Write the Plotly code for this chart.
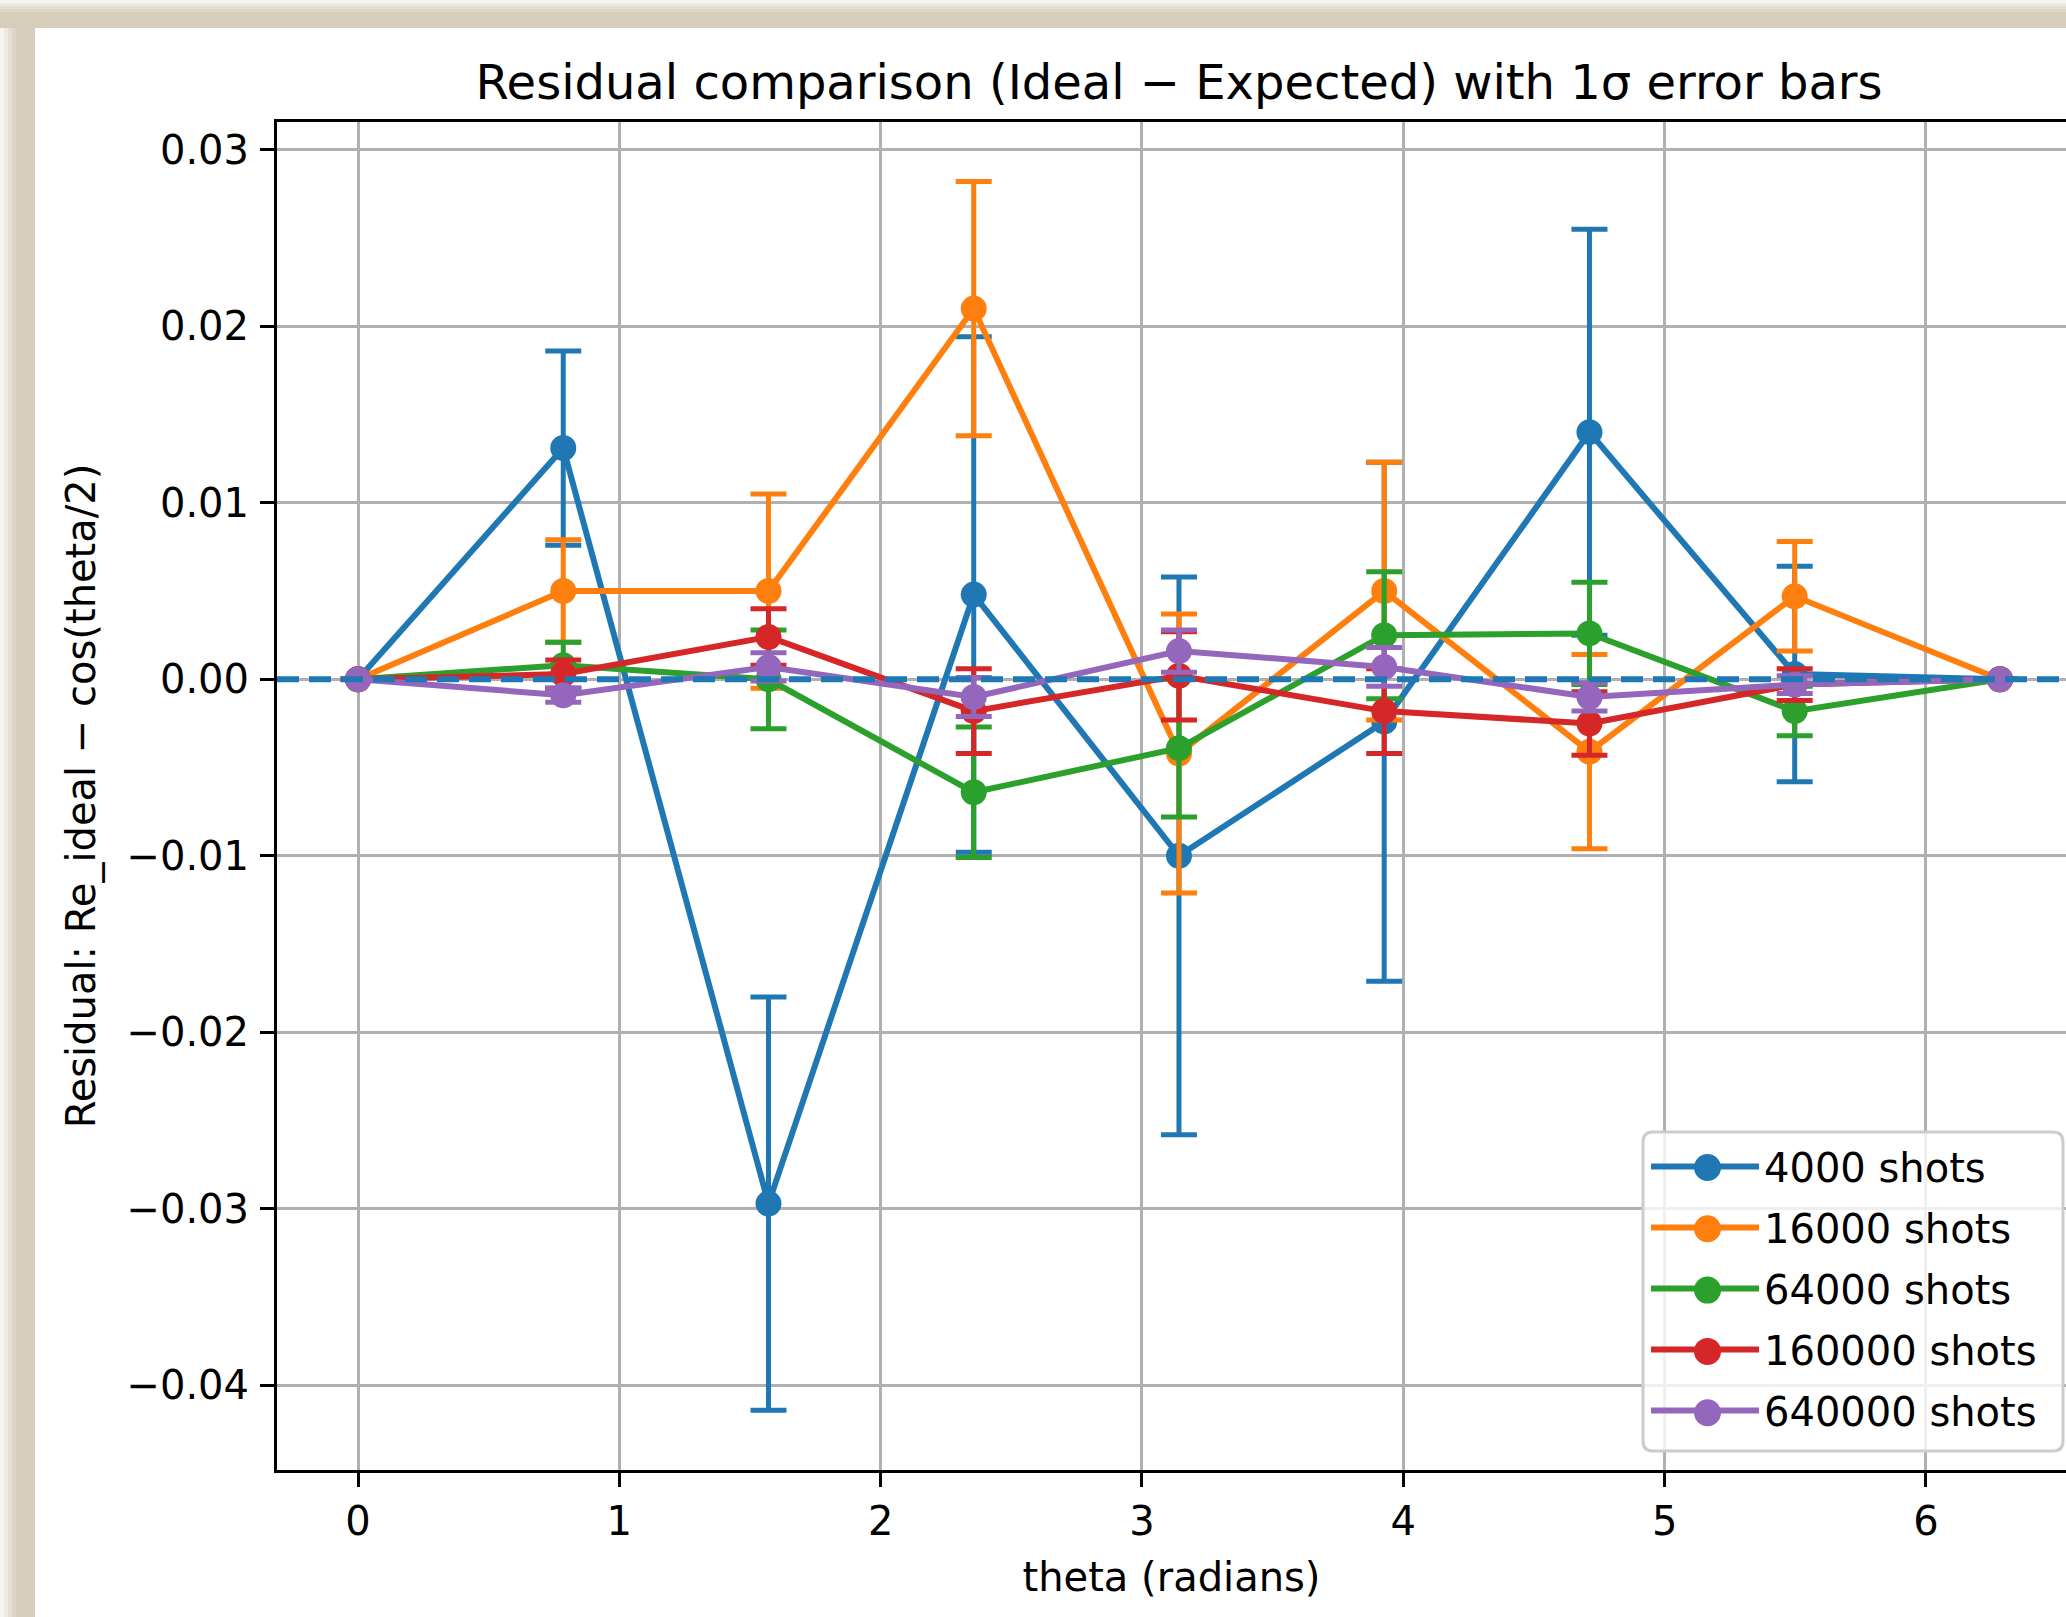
import plotly.graph_objects as go

# ---------------- data ----------------
theta = [0.0, 0.7854, 1.5708, 2.3562, 3.1416, 3.9270, 4.7124, 5.4978, 6.2832]

series_names = ["4000 shots", "16000 shots", "64000 shots", "160000 shots", "640000 shots"]

res_4000 = [0, 0.0131, -0.0297, 0.0048, -0.0100, -0.0024, 0.0140, 0.0003, 0]
err_4000 = [0, 0.0055, 0.0117, 0.0146, 0.0158, 0.0147, 0.0115, 0.0061, 0]

res_16000 = [0, 0.0050, 0.0050, 0.0210, -0.0042, 0.0050, -0.0041, 0.0047, 0]
err_16000 = [0, 0.0029, 0.0055, 0.0072, 0.0079, 0.0073, 0.0055, 0.0031, 0]

res_64000 = [0, 0.0008, 0.0000, -0.0064, -0.0039, 0.0025, 0.0026, -0.0018, 0]
err_64000 = [0, 0.0013, 0.0028, 0.0037, 0.0039, 0.0036, 0.0029, 0.0014, 0]

res_160000 = [0, 0.0003, 0.0024, -0.0018, 0.0002, -0.0018, -0.0025, -0.0003, 0]
err_160000 = [0, 0.0008, 0.0016, 0.0024, 0.0025, 0.0024, 0.0018, 0.0009, 0]

res_640000 = [0, -0.0009, 0.0007, -0.0010, 0.0016, 0.0007, -0.0010, -0.0003, 0]
err_640000 = [0, 0.0004, 0.0008, 0.0011, 0.0012, 0.0011, 0.0008, 0.0005, 0]

x_tickvals = [0, 1, 2, 3, 4, 5, 6]
x_ticktext = ["0", "1", "2", "3", "4", "5", "6"]
y_tickvals = [-0.04, -0.03, -0.02, -0.01, 0.0, 0.01, 0.02, 0.03]
y_ticktext = ["\u22120.04", "\u22120.03", "\u22120.02", "\u22120.01", "0.00", "0.01", "0.02", "0.03"]

colors = ["#1f77b4", "#ff7f0e", "#2ca02c", "#d62728", "#9467bd"]

# ---------------- layout geometry (pixels) ----------------
W, H = 2066, 1617
ML, MR, MT, MB = 277, 0, 122, 147
PW = W - ML - MR
PH = H - MT - MB
FONT = "DejaVu Sans"

LEG_L, LEG_T, LEG_R, LEG_B = 1643, 1132, 2063, 1451
LEG_ITEMW = 108
LEG_ROW0, LEG_ROWSTEP = 1167.5, 61.3
LEG_MARK_X = 1653.5 + LEG_ITEMW / 2


def pxx(p):
    return (p - ML) / PW


def pxy(p):
    return (H - MB - p) / PH


fig = go.Figure()

all_res = [res_4000, res_16000, res_64000, res_160000, res_640000]
all_err = [err_4000, err_16000, err_64000, err_160000, err_640000]

for i, (name, r, e) in enumerate(zip(series_names, all_res, all_err)):
    fig.add_trace(go.Scatter(
        x=theta, y=r, name=name, mode="lines+markers",
        legendgroup=name,
        line=dict(color=colors[i], width=6),
        marker=dict(color=colors[i], size=26, line=dict(width=0)),
        error_y=dict(type="data", array=e, visible=True, color=colors[i],
                     thickness=5, width=18),
        cliponaxis=False,
    ))

shapes = []
# dashed horizontal zero line (drawn on top of data)
shapes.append(dict(type="line", xref="paper", yref="y", x0=0, x1=1, y0=0, y1=0,
                   line=dict(color=colors[0], width=6, dash="22px,10px"),
                   layer="above"))

# window frame (beige border at top and left)
top_bands = [(0, 3, "#f7f5f0"), (3, 6, "#eeeae1"), (6, 9, "#e5dfd2"),
             (9, 12, "#ddd6c5"), (12, 28, "#d6cebb")]
left_bands = [(0, 4, "#f7f5f0"), (4, 8, "#eeeae1"), (8, 12, "#e5dfd2"),
              (12, 16, "#ddd6c5"), (16, 35, "#d6cebb")]
for x0, x1, c in left_bands:
    shapes.append(dict(type="rect", xref="paper", yref="paper",
                       x0=pxx(x0), x1=pxx(x1), y0=pxy(H), y1=pxy(0),
                       fillcolor=c, line=dict(width=0), layer="below"))
for y0, y1, c in top_bands:
    shapes.append(dict(type="rect", xref="paper", yref="paper",
                       x0=pxx(0), x1=pxx(W), y0=pxy(y1), y1=pxy(y0),
                       fillcolor=c, line=dict(width=0), layer="below"))

# legend frame: rounded box, semi-transparent white
rad = 10
l, r_, t, b = pxx(LEG_L), pxx(LEG_R), pxy(LEG_T), pxy(LEG_B)
rx, ry = rad / PW, rad / PH
box_path = (f"M{l+rx},{t} L{r_-rx},{t} Q{r_},{t} {r_},{t-ry} L{r_},{b+ry} "
            f"Q{r_},{b} {r_-rx},{b} L{l+rx},{b} Q{l},{b} {l},{b+ry} "
            f"L{l},{t-ry} Q{l},{t} {l+rx},{t} Z")
shapes.append(dict(type="path", xref="paper", yref="paper", path=box_path,
                   fillcolor="rgba(255,255,255,0.8)",
                   line=dict(color="#cccccc", width=3), layer="above"))
# larger legend markers (matplotlib-style handles)
for i in range(len(series_names)):
    cy = LEG_ROW0 + i * LEG_ROWSTEP
    shapes.append(dict(type="circle", xref="paper", yref="paper",
                       x0=pxx(LEG_MARK_X - 13.5), x1=pxx(LEG_MARK_X + 13.5),
                       y0=pxy(cy + 13.5), y1=pxy(cy - 13.5),
                       fillcolor=colors[i], line=dict(width=0), layer="above"))

fig.update_layout(
    width=W, height=H,
    margin=dict(l=ML, r=MR, t=MT, b=MB, pad=0),
    paper_bgcolor="white", plot_bgcolor="white",
    font=dict(family=FONT, size=40, color="black"),
    title=dict(text="Residual comparison (Ideal \u2212 Expected) with 1\u03c3 error bars",
               font=dict(family=FONT, size=48, color="black"),
               xref="paper", x=(1179 - ML) / PW, xanchor="center",
               yref="container", y=1 - 82 / H, yanchor="middle"),
    showlegend=True,
    legend=dict(x=pxx(LEG_L), y=pxy(1131), xanchor="left", yanchor="top",
                bgcolor="rgba(0,0,0,0)", bordercolor="rgba(0,0,0,0)", borderwidth=3,
                font=dict(family=FONT, size=40, color="black"),
                itemwidth=LEG_ITEMW, tracegroupgap=6, traceorder="grouped"),
    shapes=shapes,
)

fig.update_xaxes(
    range=[-0.31, 6.536], tickmode="array", tickvals=x_tickvals, ticktext=x_ticktext,
    showgrid=True, gridcolor="#b0b0b0", gridwidth=3, zeroline=False,
    showline=True, linecolor="black", linewidth=3, mirror=True,
    ticks="outside", ticklen=14, tickwidth=3, tickcolor="black",
    tickfont=dict(family=FONT, size=40, color="black"),
    title=dict(text="theta (radians)", font=dict(family=FONT, size=40, color="black"),
               standoff=20),
    automargin=False,
)
fig.update_yaxes(
    range=[-0.04479, 0.03157], tickmode="array", tickvals=y_tickvals, ticktext=y_ticktext,
    showgrid=True, gridcolor="#b0b0b0", gridwidth=3, zeroline=False,
    showline=True, linecolor="black", linewidth=3, mirror=False,
    ticks="outside", ticklen=14, tickwidth=3, tickcolor="black",
    tickfont=dict(family=FONT, size=40, color="black"),
    ticklabelstandoff=3,
    title=dict(text="Residual: Re_ideal \u2212 cos(theta/2)",
               font=dict(family=FONT, size=40, color="black"), standoff=19),
    automargin=False,
)

fig.write_html(
    "out.html",
    config={"displayModeBar": False},
    post_script=("document.body.style.margin='0px';"
                 "document.body.style.overflow='hidden';"
                 "document.documentElement.style.overflow='hidden';"),
)
